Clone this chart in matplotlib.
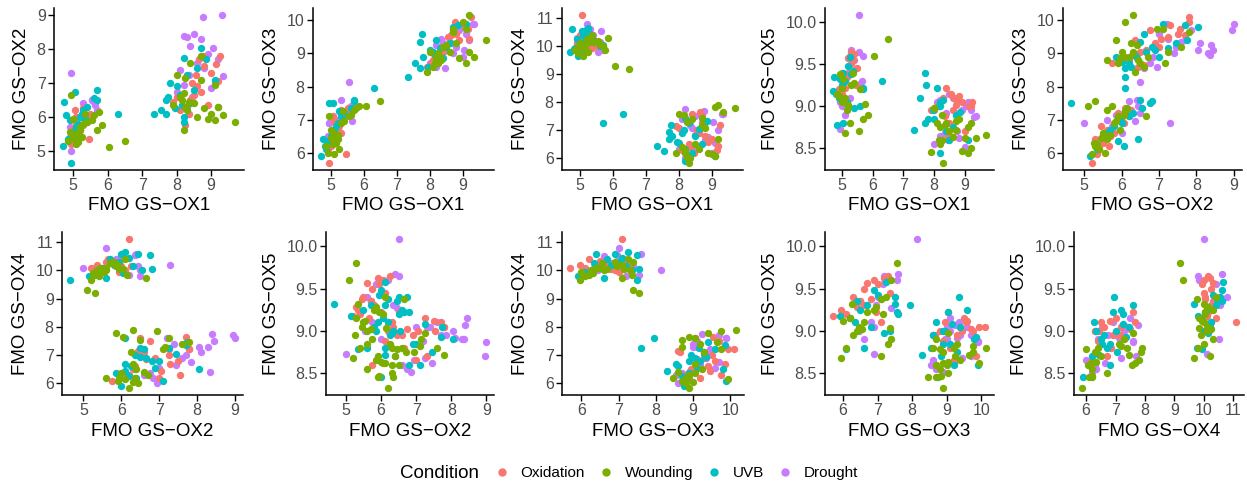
import matplotlib
matplotlib.use("Agg")
import matplotlib.pyplot as plt
from matplotlib.lines import Line2D
from matplotlib.ticker import FixedLocator, FormatStrFormatter

plt.rcParams['font.family'] = ['Liberation Sans', 'DejaVu Sans']

# niveis de expressao por condicao (cluster de OX1 ~5 primeiro, depois OX1 ~8.5)
oxi_ox1 = [4.95, 5.45, 5.05, 5.00, 5.10, 5.20, 5.30, 5.35, 4.90, 5.15, 5.25, 5.40, 5.05, 5.50, 5.00, 5.20, 5.30, 5.10,
           8.30, 8.55, 8.75, 9.25, 8.80, 9.20, 8.40, 8.60, 8.10, 8.25, 8.90, 8.00, 8.45, 8.70, 9.00, 8.35, 8.65, 7.90, 9.15, 8.50]
oxi_ox2 = [5.20, 5.35, 6.20, 5.50, 5.80, 5.60, 6.25, 5.95, 5.40, 5.70, 6.05, 5.90, 5.30, 6.10, 5.65, 5.45, 5.75, 6.00,
           6.30, 7.25, 7.80, 7.80, 7.50, 7.05, 6.50, 6.90, 6.20, 5.75, 6.35, 6.60, 7.00, 6.75, 7.30, 6.10, 7.70, 6.45, 7.55, 6.65]
oxi_ox3 = [5.70, 5.95, 7.10, 6.30, 6.60, 6.70, 7.30, 7.00, 6.10, 6.50, 6.90, 7.20, 6.40, 7.35, 6.20, 6.80, 6.60, 6.95,
           8.95, 9.50, 9.95, 10.10, 9.60, 9.45, 9.05, 9.30, 8.80, 8.70, 9.40, 8.65, 9.20, 9.70, 9.85, 8.90, 9.55, 8.60, 9.75, 9.10]
oxi_ox4 = [10.10, 10.20, 11.10, 10.05, 10.25, 10.30, 10.15, 9.95, 10.10, 10.35, 10.00, 10.20, 10.10, 10.00, 10.40, 10.05, 10.25, 10.15,
           6.50, 7.00, 7.20, 7.20, 6.80, 6.45, 7.60, 6.90, 6.30, 6.10, 6.60, 7.10, 6.20, 7.50, 6.70, 6.40, 7.65, 7.15, 6.30, 6.85]
oxi_ox5 = [9.17, 9.25, 9.10, 9.40, 9.30, 9.57, 9.65, 9.55, 9.20, 9.35, 9.60, 9.62, 9.28, 9.45, 9.15, 9.38, 9.50, 9.22,
           9.10, 9.15, 9.05, 9.05, 9.12, 9.00, 9.22, 8.95, 9.00, 8.60, 9.05, 8.95, 8.65, 9.02, 8.70, 8.88, 9.10, 8.95, 9.00, 8.80]

wnd_ox1 = [4.95, 6.05, 6.50, 5.10, 5.20, 4.85, 5.00, 5.30, 5.55, 5.70, 5.85, 5.10, 5.25, 5.40, 5.00, 5.15, 4.90, 5.35, 5.60, 5.20, 5.75, 5.05,
           8.20, 8.20, 8.25, 8.00, 8.25, 8.40, 8.70, 8.70, 9.00, 9.10, 9.20, 9.20, 9.10, 9.35, 9.70, 8.90, 8.60, 7.90, 8.15, 8.30, 8.50, 8.10, 8.80, 8.35]
wnd_ox2 = [6.65, 5.10, 5.30, 5.50, 5.60, 5.30, 5.95, 5.80, 5.90, 5.60, 5.75, 5.20, 5.40, 5.85, 5.45, 5.25, 5.55, 6.10, 6.05, 5.70, 6.15, 5.35,
           5.60, 6.70, 6.30, 7.25, 7.15, 7.60, 7.80, 7.10, 6.10, 6.95, 6.30, 6.30, 5.90, 6.05, 5.85, 5.95, 6.00, 6.35, 6.50, 6.20, 6.40, 6.60, 6.25, 6.45]
wnd_ox3 = [7.10, 7.40, 7.55, 6.60, 6.40, 6.20, 6.70, 6.90, 7.10, 7.30, 7.40, 5.95, 6.10, 6.95, 6.45, 6.30, 6.00, 7.25, 7.15, 6.55, 7.35, 6.25,
           8.80, 8.90, 9.00, 9.05, 8.70, 9.20, 9.65, 9.75, 9.95, 9.75, 10.15, 9.05, 8.70, 8.90, 9.40, 8.85, 9.05, 8.45, 8.70, 8.90, 9.25, 8.60, 9.30, 8.80]
wnd_ox4 = [9.75, 9.30, 9.20, 10.00, 10.10, 9.85, 10.05, 10.30, 10.20, 10.00, 10.30, 9.65, 9.80, 10.15, 10.10, 9.90, 9.95, 10.40, 10.05, 10.25, 9.85, 10.00,
           6.20, 6.30, 6.05, 7.60, 7.30, 7.40, 7.45, 7.20, 6.15, 7.85, 7.90, 6.70, 6.10, 7.65, 7.80, 6.20, 6.35, 6.20, 7.55, 5.85, 6.50, 6.40, 7.10, 6.00]
wnd_ox5 = [9.38, 9.60, 9.80, 9.10, 9.00, 9.15, 9.22, 9.25, 8.70, 8.85, 8.90, 8.68, 8.80, 9.28, 9.05, 8.95, 9.12, 9.40, 9.20, 9.02, 9.03, 9.32,
           8.55, 8.75, 8.60, 8.98, 8.90, 8.80, 8.72, 8.82, 8.62, 8.75, 8.80, 8.50, 8.45, 8.62, 8.66, 8.47, 8.63, 8.46, 8.60, 8.33, 8.70, 8.80, 8.85, 8.78]

uvb_ox1 = [4.95, 6.30, 5.70, 4.75, 4.80, 4.70, 5.05, 5.20, 5.10, 5.25, 5.35, 5.00, 4.85, 5.15, 5.30, 5.60, 5.70, 5.05, 4.90, 5.40,
           7.35, 7.55, 7.70, 7.70, 7.75, 7.80, 8.20, 8.70, 8.60, 9.10, 8.50, 8.20, 8.20, 7.95, 8.10, 8.30, 8.40, 8.00, 8.15, 8.85]
uvb_ox2 = [4.65, 6.10, 6.50, 6.45, 6.05, 5.15, 6.75, 6.00, 5.70, 6.10, 5.95, 5.50, 5.35, 5.80, 6.20, 6.55, 6.80, 5.60, 5.90, 6.30,
           6.10, 6.20, 6.10, 6.50, 6.60, 7.00, 7.75, 8.05, 7.45, 7.10, 6.80, 6.00, 5.85, 6.25, 6.65, 7.25, 6.40, 6.90, 6.35, 7.70]
uvb_ox3 = [7.50, 7.95, 7.60, 6.40, 6.20, 5.90, 7.50, 6.90, 6.70, 7.25, 7.00, 6.50, 6.10, 6.80, 7.10, 7.35, 7.55, 6.60, 6.35, 7.20,
           8.30, 8.70, 8.55, 9.35, 9.60, 8.90, 9.40, 9.80, 9.30, 9.90, 9.20, 8.75, 8.90, 8.60, 9.05, 9.15, 8.85, 9.10, 8.95, 9.85]
uvb_ox4 = [9.65, 7.60, 7.25, 10.60, 9.90, 9.80, 10.55, 10.60, 10.40, 10.65, 10.30, 10.10, 9.95, 10.20, 10.45, 10.00, 10.05, 9.75, 10.25, 10.15,
           6.45, 6.25, 6.70, 6.95, 7.20, 6.80, 7.45, 6.50, 7.05, 6.10, 6.80, 5.90, 6.35, 6.60, 6.90, 7.25, 6.20, 6.55, 7.00, 7.35]
uvb_ox5 = [9.32, 9.30, 9.20, 9.35, 9.15, 9.18, 9.40, 9.48, 9.30, 9.58, 9.42, 9.25, 8.78, 9.05, 9.38, 9.00, 9.22, 8.80, 9.10, 8.98,
           8.72, 9.10, 8.80, 9.40, 9.25, 8.85, 9.05, 8.90, 8.75, 8.60, 8.60, 8.45, 9.00, 8.95, 9.22, 9.08, 8.70, 8.85, 9.00, 8.93]

drt_ox1 = [4.95, 4.95, 5.55, 5.30, 5.55, 5.70, 5.20, 4.90, 5.10, 5.40, 5.00, 5.65, 5.25, 5.60,
           8.75, 9.30, 8.50, 8.20, 8.30, 8.70, 8.40, 9.05, 8.90, 9.20, 9.35, 8.10, 8.00, 8.20, 8.60, 9.10, 8.45, 8.35, 8.80, 9.00]
drt_ox2 = [7.30, 5.00, 6.50, 6.40, 6.50, 6.20, 5.60, 5.70, 6.00, 5.85, 5.55, 6.35, 5.75, 6.45,
           8.95, 9.00, 8.45, 8.40, 8.35, 8.30, 8.10, 8.05, 7.85, 7.70, 7.20, 7.40, 6.75, 6.95, 7.60, 7.00, 6.60, 7.25, 7.45, 6.85]
drt_ox3 = [6.90, 6.90, 8.15, 7.60, 7.20, 7.55, 7.00, 6.50, 6.60, 7.15, 6.45, 6.95, 6.80, 7.40,
           9.70, 9.90, 9.10, 9.25, 8.95, 9.00, 9.30, 9.10, 9.70, 9.40, 9.90, 9.00, 8.70, 8.60, 9.35, 9.60, 8.55, 9.45, 9.20, 8.90]
drt_ox4 = [10.20, 10.10, 10.00, 10.60, 9.80, 9.85, 10.80, 10.30, 10.50, 10.40, 10.00, 10.55, 10.25, 10.15,
           7.70, 7.60, 7.50, 7.75, 6.40, 7.30, 7.10, 7.30, 6.75, 7.00, 7.60, 7.40, 6.35, 6.00, 6.90, 6.55, 6.30, 7.20, 6.65, 6.20]
drt_ox5 = [9.05, 8.73, 10.08, 9.67, 9.65, 9.60, 9.40, 9.35, 8.90, 9.55, 9.00, 9.30, 9.10, 9.27,
           8.70, 8.87, 9.15, 9.07, 8.90, 8.90, 8.92, 9.00, 8.95, 8.95, 8.88, 9.05, 8.55, 8.65, 9.10, 9.05, 8.60, 8.68, 8.62, 8.52]

conditions = ['Oxidation', 'Wounding', 'UVB', 'Drought']
cores = {'Oxidation': '#F8766D', 'Wounding': '#7CAE00', 'UVB': '#00BFC4', 'Drought': '#C77CFF'}
dados = {
    'Oxidation': [oxi_ox1, oxi_ox2, oxi_ox3, oxi_ox4, oxi_ox5],
    'Wounding': [wnd_ox1, wnd_ox2, wnd_ox3, wnd_ox4, wnd_ox5],
    'UVB': [uvb_ox1, uvb_ox2, uvb_ox3, uvb_ox4, uvb_ox5],
    'Drought': [drt_ox1, drt_ox2, drt_ox3, drt_ox4, drt_ox5],
}
genes = ['FMO GS\u2212OX1', 'FMO GS\u2212OX2', 'FMO GS\u2212OX3', 'FMO GS\u2212OX4', 'FMO GS\u2212OX5']
ticks = [[5, 6, 7, 8, 9], [5, 6, 7, 8, 9], [6, 7, 8, 9, 10], [6, 7, 8, 9, 10, 11], [8.5, 9.0, 9.5, 10.0]]
pares = [(0, 1), (0, 2), (0, 3), (0, 4), (1, 2), (1, 3), (1, 4), (2, 3), (2, 4), (3, 4)]
ordem = ['Drought', 'Oxidation', 'UVB', 'Wounding']

W, H = 1247, 487
# posicoes dos paineis em pixels: (esquerda, direita)
caixas_x = [(54, 244), (313, 494), (562, 743), (825, 994), (1063, 1242),
            (62, 243), (326, 494), (562, 744), (825, 994), (1074, 1244)]
linhas_y = [(8, 170), (232, 395)]

fig = plt.figure(figsize=(W / 100, H / 100), dpi=100)

for k, (gx, gy) in enumerate(pares):
    x0, x1 = caixas_x[k]
    top, bot = linhas_y[k // 5]
    ax = fig.add_axes([x0 / W, 1 - bot / H, (x1 - x0) / W, (bot - top) / H])
    for cond in ordem:
        ax.scatter(dados[cond][gx], dados[cond][gy], s=28, color=cores[cond], linewidths=0, zorder=2)
    ax.xaxis.set_major_locator(FixedLocator(ticks[gx]))
    ax.yaxis.set_major_locator(FixedLocator(ticks[gy]))
    if gy == 4:
        ax.yaxis.set_major_formatter(FormatStrFormatter('%.1f'))
    ax.set_xlabel(genes[gx], fontsize=13.5, labelpad=3)
    ax.set_ylabel(genes[gy], fontsize=13.5, labelpad=5)
    ax.tick_params(labelsize=11.5, labelcolor='#4D4D4D', length=4, width=1, pad=2)
    for s in ['top', 'right']:
        ax.spines[s].set_visible(False)
    for s in ['left', 'bottom']:
        ax.spines[s].set_linewidth(1.1)

# legenda
fig.text(400 / W, 1 - 473 / H, 'Condition', fontsize=13.5, va='center', ha='left')
handles = [Line2D([], [], marker='o', linestyle='', markersize=6, markerfacecolor=cores[c],
                  markeredgewidth=0, label=c) for c in conditions]
fig.legend(handles=handles, loc='center left', bbox_to_anchor=(494 / W, 1 - 473 / H), ncol=4,
           frameon=False, fontsize=11, handlelength=1.0, handletextpad=0.75, columnspacing=0.85,
           borderaxespad=0, borderpad=0)

fig.savefig('out.png', dpi=100)
